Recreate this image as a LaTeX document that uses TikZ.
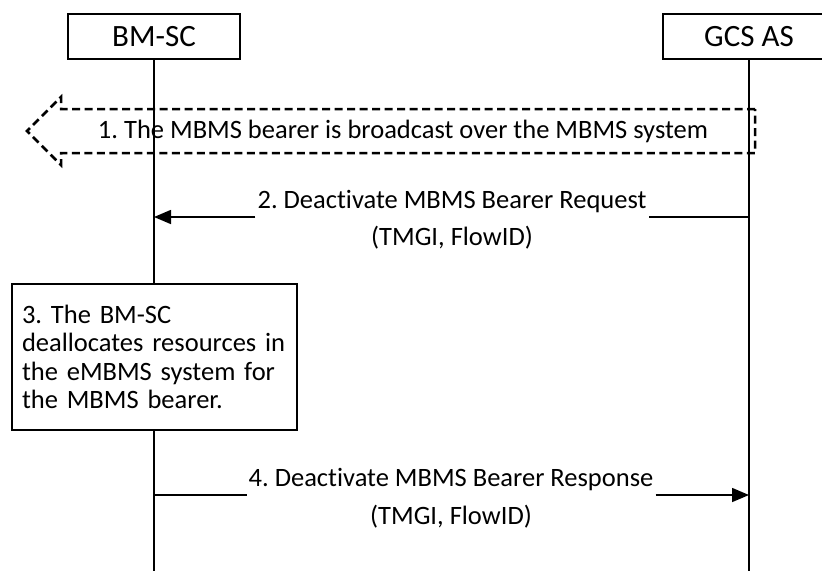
\documentclass[tikz,border=0pt]{standalone}
\usepackage{fontspec}
\setmainfont[Ligatures={NoCommon,NoContextual}]{Carlito}
\usetikzlibrary{arrows.meta}
\frenchspacing
\begin{document}
\begin{tikzpicture}[x=1pt,y=-1pt,
  head/.style={draw,line width=1.6pt,minimum width=172pt,minimum height=45pt,inner sep=0pt,font=\fontsize{31}{36}\selectfont},
  life/.style={line width=1.6pt},
  msg/.style={line width=1.6pt},
  lbl/.style={inner sep=2pt,font=\fontsize{26.5}{30}\selectfont},
  tip/.style={-{Triangle[length=17pt,width=14pt]}},
  bcast/.style={line width=2.5pt,dash pattern=on 8pt off 4.5pt,line join=miter},
  procbox/.style={draw,fill=white,line width=1.6pt,minimum width=285pt,minimum height=146pt,text width=265pt,inner sep=10pt,align=left,font=\fontsize{26.5}{28.5}\selectfont}]
\useasboundingbox (0,0) rectangle (822,571);
% headers
\node[head] (bm) at (154,36.5) {BM-SC};
\node[head] (gcs) at (749,36.5) {GCS AS};
\coordinate (bmend) at (154,571);
\coordinate (gcsend) at (749,571);
\draw[life] (bm.south) -- (bmend);
\draw[life] (gcs.south) -- (gcsend);
% 1. broadcast (dashed block arrow)
\node[lbl,inner sep=0pt] (t1) at (403,131) {1. The MBMS bearer is broadcast over the MBMS system};
\draw[bcast] (755,109) -- (61,109) -- (61,97) -- (27,131) -- (61,165) -- (61,153) -- (755,153) -- cycle;
% 2. request
\coordinate (g2) at (749,217);
\coordinate (b2) at (154,217);
\node[lbl,anchor=base] (m2a) at (452,208.5) {2. Deactivate MBMS Bearer Request};
\node[lbl,anchor=base] (m2b) at (452,245) {(TMGI, FlowID)};
\draw[msg] (g2) -- (m2a.east |- g2);
\draw[msg,tip] (m2a.west |- b2) -- (b2);
% 3. box
\node[procbox] (p3) at (154.5,357) {3. The BM-SC\\deallocates resources in\\the eMBMS system for\\the MBMS bearer.};
% 4. response
\coordinate (b4) at (154,495);
\coordinate (g4) at (749,495);
\node[lbl,anchor=base] (m4a) at (451,486.5) {4. Deactivate MBMS Bearer Response};
\node[lbl,anchor=base] (m4b) at (451,524) {(TMGI, FlowID)};
\draw[msg] (b4) -- (m4a.west |- b4);
\draw[msg,tip] (m4a.east |- g4) -- (g4);
\end{tikzpicture}
\end{document}
